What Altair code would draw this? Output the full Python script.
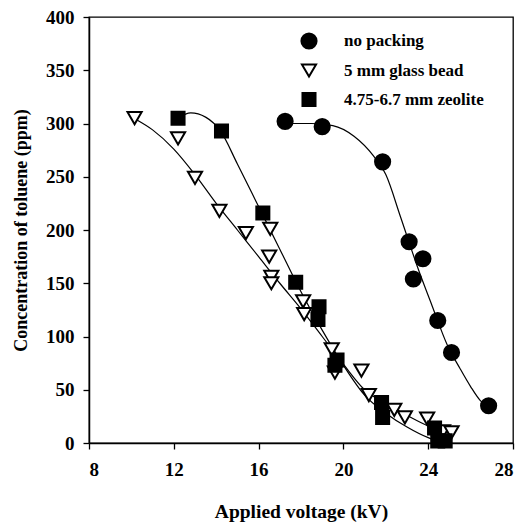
import altair as alt
import pandas as pd

series_names = ["no packing", "5 mm glass bead", "4.75-6.7 mm zeolite"]

# measured points
np_x = [17.25, 19.0, 21.85, 23.1, 23.75, 23.3, 24.45, 25.1, 26.85]
np_y = [302, 297, 264, 189, 173, 154, 115, 85, 35]

gb_x = [10.15, 12.2, 13.0, 14.15, 15.4, 16.55, 16.5, 16.6, 16.6, 18.1, 18.15,
        19.45, 19.6, 20.85, 21.2, 22.4, 22.9, 23.95, 24.7, 25.1]
gb_y = [305, 286, 249, 218, 197, 201, 175, 156, 150, 133, 121,
        88, 66, 68, 45, 31, 24, 23, 11, 10]

zl_x = [12.2, 14.25, 16.2, 17.75, 18.85, 18.8, 19.7, 19.6, 21.8, 21.85, 24.3, 24.45, 24.8]
zl_y = [305, 293, 216, 151, 128, 116, 78, 73, 38, 24, 14, 2, 2]

# fitted curves
np_curve_x = [17.1, 18.5, 19.5, 20.5, 21.4, 22.0, 22.7, 23.5, 24.2, 24.9, 25.5, 26.0, 26.45, 26.8]
np_curve_y = [300, 300, 298, 288, 270, 252, 212, 165, 128, 92, 70, 53, 40, 34]

gb_curve_x = [10.2, 11, 12, 13, 14, 15, 16, 17, 18, 19, 20, 21, 22, 23, 24, 25]
gb_curve_y = [304, 294, 276, 252, 225, 200, 175, 150, 126, 100, 74, 50, 37, 26, 16, 9]

zl_curve_x = [12.2, 12.8, 13.5, 14.2, 15, 16, 17, 18, 19, 20, 21, 22, 23, 24, 24.6]
zl_curve_y = [305, 310, 306, 293, 262, 222, 182, 142, 106, 73, 45, 28, 15, 5, 1]

x_ticks = [8, 12, 16, 20, 24, 28]
y_ticks = [0, 50, 100, 150, 200, 250, 300, 350, 400]

pts = pd.concat([
    pd.DataFrame({"kV": np_x, "ppm": np_y, "series": series_names[0]}),
    pd.DataFrame({"kV": gb_x, "ppm": gb_y, "series": series_names[1]}),
    pd.DataFrame({"kV": zl_x, "ppm": zl_y, "series": series_names[2]}),
])
curves = pd.concat([
    pd.DataFrame({"kV": np_curve_x, "ppm": np_curve_y, "series": series_names[0]}),
    pd.DataFrame({"kV": gb_curve_x, "ppm": gb_curve_y, "series": series_names[1]}),
    pd.DataFrame({"kV": zl_curve_x, "ppm": zl_curve_y, "series": series_names[2]}),
])

FONT = "Liberation Serif"
x_scale = alt.Scale(domain=[8, 28], nice=False, zero=False)
y_scale = alt.Scale(domain=[0, 400], nice=False)

x_enc = alt.X("kV:Q", scale=x_scale,
              axis=alt.Axis(values=x_ticks, title="Applied voltage (kV)",
                            labelPadding=11, titlePadding=23, titleFontSize=19.5))
y_enc = alt.Y("ppm:Q", scale=y_scale,
              axis=alt.Axis(values=y_ticks, title="Concentration of toluene (ppm)",
                            labelPadding=9, titlePadding=15))

lines = alt.Chart(curves).mark_line(color="black", strokeWidth=1.2, interpolate="monotone").encode(
    x=x_enc, y=y_enc, detail="series:N"
)

points = alt.Chart(pts).mark_point(opacity=1, strokeWidth=2).encode(
    x=x_enc, y=y_enc,
    shape=alt.Shape("series:N", title=None,
                    scale=alt.Scale(domain=series_names, range=["circle", "triangle-down", "square"]),
                    legend=alt.Legend(orient="none", legendX=211, legendY=15)),
    fill=alt.Fill("series:N", title=None,
                  scale=alt.Scale(domain=series_names, range=["black", "white", "black"])),
    stroke=alt.Stroke("series:N", title=None,
                      scale=alt.Scale(domain=series_names, range=["black", "black", "black"])),
    size=alt.Size("series:N", title=None,
                  scale=alt.Scale(domain=series_names, range=[230, 170, 180])),
)

chart = (lines + points).properties(
    width=424, height=426,
    padding={"left": 89, "top": 17, "right": 17, "bottom": 79},
    autosize=alt.AutoSizeParams(type="none"),
).configure_view(stroke="black", strokeWidth=1.3).configure_axis(
    domainColor="black", domainWidth=1.5, tickColor="black", tickSize=6, tickWidth=1.3,
    grid=False, labelFont=FONT, labelFontSize=19, labelFontWeight="bold", labelColor="black",
    titleFont=FONT, titleFontSize=18, titleFontWeight="bold", titleColor="black",
).configure_legend(
    labelFont=FONT, labelFontSize=17, labelFontWeight="bold", labelColor="black",
    symbolStrokeWidth=2, labelOffset=26, rowPadding=7,
    padding=0,
)

chart.save("out.html", embed_options={"renderer": "svg", "actions": False})
